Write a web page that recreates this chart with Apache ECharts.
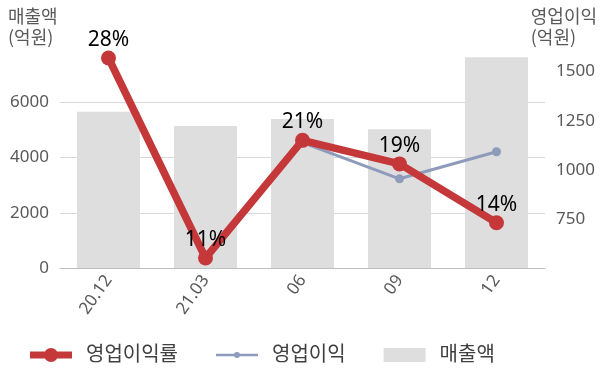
<!DOCTYPE html>
<html>
<head>
<meta charset="utf-8">
<script src="https://cdn.jsdelivr.net/npm/echarts@6/dist/echarts.min.js"></script>
<style>
html,body{margin:0;padding:0;background:#fff;}
#chart{width:600px;height:383px;}
</style>
</head>
<body>
<div id="chart"></div>
<script>
const categories = ['20.12', '21.03', '06', '09', '12'];
const revenue = [5658, 5140, 5394, 5021, 7628];          // 매출액 (억원)
const operatingProfit = [1577, 546, 1138, 954, 1092];    // 영업이익 (억원)
const operatingMargin = [28, 11, 21, 19, 14];            // 영업이익률 (%)
const leftTicks = [0, 2000, 4000, 6000];
const rightTicks = [750, 1000, 1250, 1500];

const FONT = "'Noto Sans', 'Noto Sans CJK KR', sans-serif";
const chart = echarts.init(document.getElementById('chart'), null, {renderer: 'canvas'});

const redIcon = 'path://M0,3.5H42V10.5H0Z M14,7A7,7 0 1,1 28,7A7,7 0 1,1 14,7Z';
const blueIcon = 'path://M0,0Z M42,14Z M0,5.7H42V8.3H0Z M18,7A3,3 0 1,1 24,7A3,3 0 1,1 18,7Z';

chart.setOption({
  animation: false,
  backgroundColor: '#fff',
  textStyle: {fontFamily: FONT},
  grid: {left: 60, right: 55, top: 47, bottom: 115, containLabel: false},
  legend: {
    left: 25, top: 340,
    itemWidth: 42, itemHeight: 14, itemGap: 38,
    textStyle: {fontFamily: FONT, fontSize: 20, color: '#404040', padding: [0, 0, 0, 9]},
    data: [
      {name: '영업이익률', icon: redIcon},
      {name: '영업이익', icon: blueIcon},
      {name: '매출액', icon: 'rect'}
    ]
  },
  graphic: [
    {type: 'text', left: 8, top: 6, style: {text: '매출액\n(억원)', font: "18px 'Noto Sans CJK KR'", fill: '#595959', align: 'center', lineHeight: 21}},
    {type: 'text', right: 3, top: 6, style: {text: '영업이익\n(억원)', font: "18px 'Noto Sans CJK KR'", fill: '#595959', align: 'center', lineHeight: 21}}
  ],
  xAxis: {
    type: 'category',
    data: categories,
    axisLine: {lineStyle: {color: '#bfbfbf', width: 1}},
    axisTick: {show: false},
    axisLabel: {rotate: 55, fontSize: 17, color: '#595959', fontFamily: FONT, margin: 9}
  },
  yAxis: [
    {
      type: 'value', min: 0, max: 8000, interval: 2000,
      axisLine: {show: false}, axisTick: {show: false},
      axisLabel: {fontSize: 17, color: '#595959', fontFamily: FONT, margin: 11, showMaxLabel: false,
        formatter: v => leftTicks.includes(v) ? String(v) : ''},
      splitLine: {lineStyle: {color: ['#d9d9d9', '#d9d9d9', '#d9d9d9', '#d9d9d9', 'rgba(0,0,0,0)'], width: 1}}
    },
    {
      type: 'value', min: 500, max: 1625, interval: 250, position: 'right',
      axisLine: {show: false}, axisTick: {show: false},
      axisLabel: {fontSize: 17, color: '#595959', fontFamily: FONT, margin: 11,
        formatter: v => rightTicks.includes(v) ? String(v) : ''},
      splitLine: {show: false}
    },
    {
      type: 'value', min: 10.15, max: 28.935, show: false,
      splitLine: {show: false}
    }
  ],
  series: [
    {
      name: '매출액', type: 'bar', yAxisIndex: 0, data: revenue,
      barWidth: '65%', itemStyle: {color: '#dedede'}, z: 1
    },
    {
      name: '영업이익', type: 'line', yAxisIndex: 1, data: operatingProfit,
      symbol: 'circle', symbolSize: 9,
      lineStyle: {color: '#8e9bba', width: 3}, itemStyle: {color: '#8e9bba'}, z: 2
    },
    {
      name: '영업이익률', type: 'line', yAxisIndex: 2, data: operatingMargin,
      symbol: 'circle', symbolSize: 15,
      lineStyle: {color: '#c5383a', width: 7.5}, itemStyle: {color: '#c5383a'}, z: 3,
      label: {show: true, position: 'top', distance: 0, fontSize: 21, color: '#000', fontFamily: FONT,
        formatter: p => p.value + '%'}
    }
  ]
});
</script>
</body>
</html>
